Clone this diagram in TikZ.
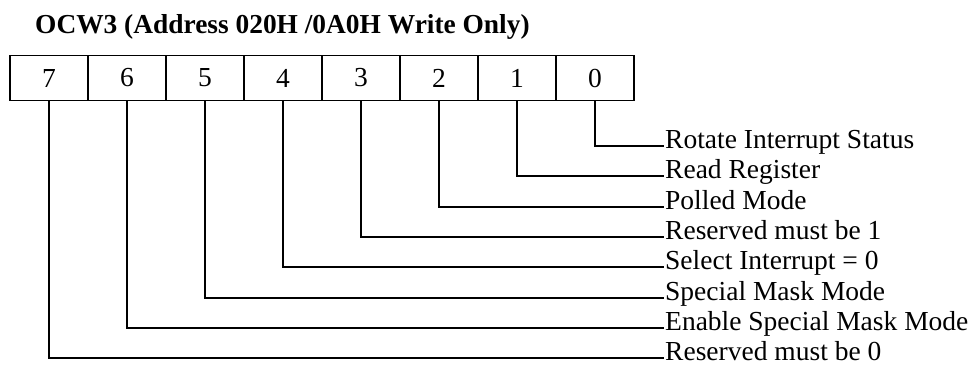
\documentclass[tikz,border=0pt]{standalone}
\usepackage{fontspec}
\setmainfont{Liberation Serif}
\usetikzlibrary{positioning}

\tikzset{
    bitcell/.style={draw, line width=1.4pt, minimum width=78pt, minimum height=45pt,
        inner sep=0pt, outer sep=0pt, font=\fontsize{27.5}{32}\selectfont},
    bitlabel/.style={anchor=base west, inner sep=1pt, font=\fontsize{27.5}{32}\selectfont},
    bitwire/.style={line width=1.4pt},
}

\begin{document}
\begin{tikzpicture}[x=1pt,y=-1pt]
    \useasboundingbox (0,0) rectangle (970,365);

    % Title
    \node[anchor=base west, inner sep=0pt, font=\bfseries\fontsize{27.4}{32}\selectfont] (title) at (35,33)
        {OCW3 (Address 020H /0A0H Write Only)};

    % Register bits
    \node[bitcell] (b7) at (49,78) {7};
    \node[bitcell, right=0pt of b7] (b6) {6};
    \node[bitcell, right=0pt of b6] (b5) {5};
    \node[bitcell, right=0pt of b5] (b4) {4};
    \node[bitcell, right=0pt of b4] (b3) {3};
    \node[bitcell, right=0pt of b3] (b2) {2};
    \node[bitcell, right=0pt of b2] (b1) {1};
    \node[bitcell, right=0pt of b1] (b0) {0};

    % Bit meanings
    \node[bitlabel] (l0) at (664,148) {Rotate Interrupt Status};
    \node[bitlabel] (l1) at (664,178) {Read Register};
    \node[bitlabel] (l2) at (664,209) {Polled Mode};
    \node[bitlabel] (l3) at (664,239) {Reserved must be 1};
    \node[bitlabel] (l4) at (664,269) {Select Interrupt = 0};
    \node[bitlabel] (l5) at (664,300) {Special Mask Mode};
    \node[bitlabel] (l6) at (664,330) {Enable Special Mask Mode};
    \node[bitlabel] (l7) at (664,360) {Reserved must be 0};

    % Leader lines from each bit
    \draw[bitwire] (b0.south) |- ([yshift=2pt]l0.base west);
    \draw[bitwire] (b1.south) |- ([yshift=2pt]l1.base west);
    \draw[bitwire] (b2.south) |- ([yshift=2pt]l2.base west);
    \draw[bitwire] (b3.south) |- ([yshift=2pt]l3.base west);
    \draw[bitwire] (b4.south) |- ([yshift=2pt]l4.base west);
    \draw[bitwire] (b5.south) |- ([yshift=2pt]l5.base west);
    \draw[bitwire] (b6.south) |- ([yshift=2pt]l6.base west);
    \draw[bitwire] (b7.south) |- ([yshift=2pt]l7.base west);

\end{tikzpicture}
\end{document}
